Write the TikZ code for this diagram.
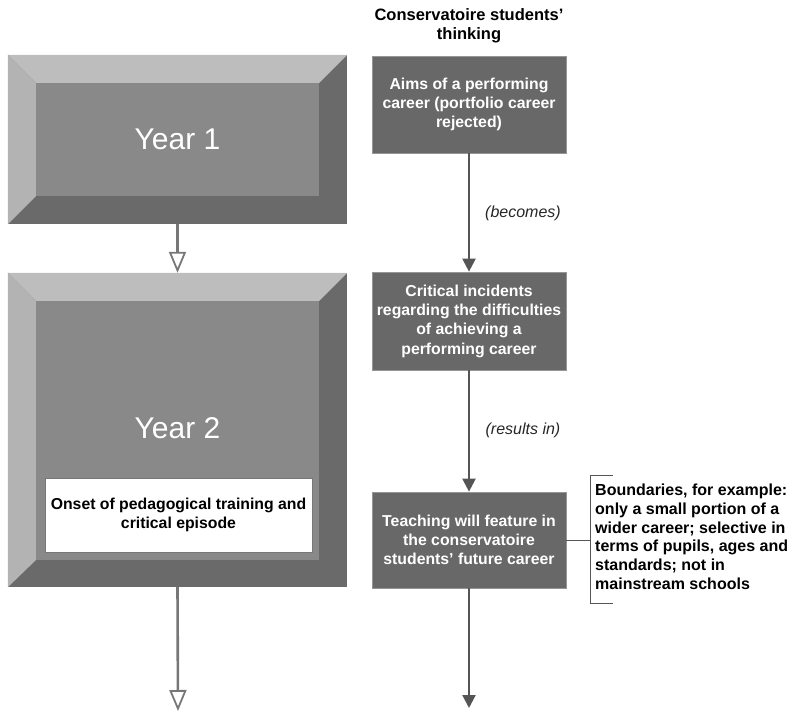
\documentclass[tikz,border=0pt]{standalone}
\usepackage{fontspec}
\setmainfont{Liberation Sans}
\usetikzlibrary{arrows.meta,calc}
\definecolor{bevlight}{HTML}{BDBDBD}
\definecolor{bevleft}{HTML}{B3B3B3}
\definecolor{bevdark}{HTML}{6A6A6A}
\definecolor{facegray}{HTML}{898989}
\definecolor{boxgray}{HTML}{686868}
\definecolor{linegray}{HTML}{777777}
\definecolor{darkline}{HTML}{555555}
\tikzset{
  outerframe/.style={inner sep=0pt, minimum width=339pt},
  face/.style={fill=facegray, inner sep=0pt, minimum width=283pt, text=white, font=\fontsize{30}{34}\selectfont},
  thinkbox/.style={fill=boxgray, draw=boxgray!70!white, line width=0.7pt, minimum width=194pt, inner sep=0pt, align=center, text=white, font=\bfseries\fontsize{15.8}{19.3}\selectfont},
  yeararrow/.style={draw=linegray, line width=2.6pt, -{Triangle[open, length=21pt, width=17pt, line width=1.8pt, fill=white]}},
  thinkarrow/.style={draw=darkline, line width=2.2pt, -{Triangle[length=13pt, width=13pt]}},
  relabel/.style={font=\itshape\fontsize{16}{18}\selectfont, text=black!85},
  notebox/.style={font=\bfseries\fontsize{15.8}{18.5}\selectfont, align=center, fill=white, draw=linegray, line width=0.8pt, minimum width=267pt, minimum height=74pt, inner sep=0pt},
  boundtext/.style={font=\bfseries\fontsize{16}{18.7}\selectfont, align=left, inner sep=0pt},
}
\begin{document}
\begin{tikzpicture}[x=1pt,y=-1pt]
\useasboundingbox (0,0) rectangle (790,712);
% Year 1 bevelled box
\node[outerframe, minimum height=169pt] (y1o) at (177.5,139.5) {};
\node[face, minimum height=113pt] (y1) at (177.5,139.5) {};
\fill[bevdark] (y1o.north west) rectangle (y1o.south east);
\fill[bevlight] (y1o.north west) -- (y1o.north east) -- (y1.north east) -- (y1.north west) -- cycle;
\fill[bevleft] (y1o.north west) -- (y1.north west) -- (y1.south west) -- (y1o.south west) -- cycle;
\node[face, minimum height=113pt] at (y1) {Year 1};
% Year 2 bevelled box
\node[outerframe, minimum height=314pt] (y2o) at (177.5,430) {};
\node[face, minimum height=259pt] (y2) at (177.5,430.5) {};
\fill[bevdark] (y2o.north west) rectangle (y2o.south east);
\fill[bevlight] (y2o.north west) -- (y2o.north east) -- (y2.north east) -- (y2.north west) -- cycle;
\fill[bevleft] (y2o.north west) -- (y2.north west) -- (y2.south west) -- (y2o.south west) -- cycle;
\node[face, minimum height=259pt] at (y2) {};
\node[text=white, font=\fontsize{30}{34}\selectfont] (y2t) at (177.5,428) {Year 2};
\node[notebox] (onset) at (178.5,515) {Onset of pedagogical training and\\critical episode};
% left arrows
\coordinate (lend) at (178,711);
\draw[yeararrow] (y1o.south) -- (y2o.north);
\draw[yeararrow] (y2o.south) -- (lend);
% right column
\node[font=\bfseries\fontsize{16.5}{19}\selectfont, align=center] (title) at (469,25.5) {Conservatoire students'\\thinking};
\node[thinkbox, minimum height=97pt] (b1) at (469,104.5) {Aims of a performing\\career (portfolio career\\rejected)};
\node[thinkbox, minimum height=98pt] (b2) at (469,321) {Critical incidents\\regarding the difficulties\\of achieving a\\performing career};
\node[thinkbox, minimum height=96pt] (b3) at (469,540) {Teaching will feature in\\the conservatoire\\students' future career};
\coordinate (rend) at (469,708);
\draw[thinkarrow] (b1.south) -- (b2.north);
\draw[thinkarrow] (b2.south) -- (b3.north);
\draw[thinkarrow] (b3.south) -- (rend);
\node[relabel] (lab1) at (523,213) {(becomes)};
\node[relabel] (lab2) at (523,430) {(results in)};
% bracket
\coordinate (bk) at (590,540);
\coordinate (bkt) at (590,475);
\coordinate (bkb) at (590,603);
\coordinate (bktr) at (613,475);
\coordinate (bkbr) at (613,603);
\draw[darkline, line width=1pt] (b3.east) -- (bk);
\draw[darkline, line width=1pt] (bktr) -- (bkt) -- (bkb) -- (bkbr);
\node[boundtext, anchor=north west] (bound) at (595,484) {Boundaries, for example:\\only a small portion of a\\wider career; selective in\\terms of pupils, ages and\\standards; not in\\mainstream schools};
\end{tikzpicture}
\end{document}
